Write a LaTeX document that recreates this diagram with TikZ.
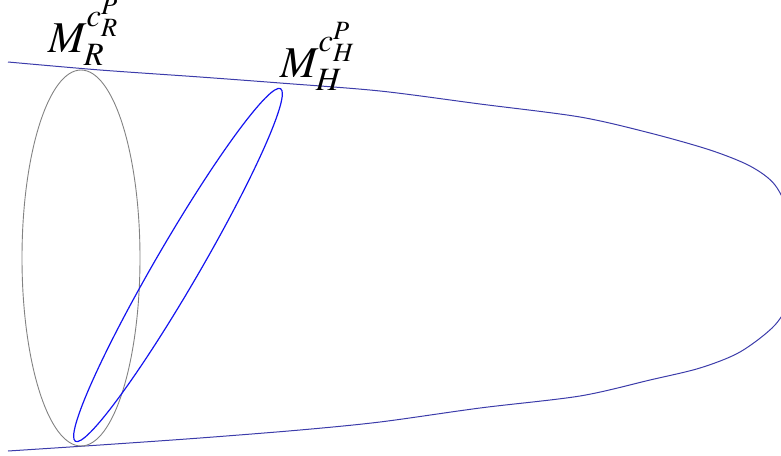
\documentclass[tikz,border=0pt]{standalone}
\usepackage{mathptmx}
\definecolor{outerblue}{RGB}{60,60,170}
\definecolor{ellblue}{RGB}{20,20,240}
\definecolor{ellgray}{RGB}{130,130,130}
\tikzset{
  outercurve/.style={draw=outerblue, line width=1pt},
  grayell/.style={draw=ellgray, line width=0.9pt},
  blueell/.style={draw=ellblue, line width=1.2pt},
  biglabel/.style={inner sep=0pt, font=\fontsize{44}{48}\selectfont}
}
\begin{document}
\begin{tikzpicture}[x=1pt,y=-1pt]
\useasboundingbox (0,0) rectangle (781,455);
\begin{scope}
\clip (0,0) rectangle (781,455);
\draw[outercurve] plot[smooth, tension=0.5] coordinates {
 (8,62) (100,70) (200,77) (280,83) (380,91) (480,104) (580,117) (650,133)
 (710,150) (750,166) (775,185) (792,220) (798,257) (792,295) (775,325)
 (740,352) (700,368) (650,380) (580,396) (480,408) (380,422) (300,430)
 (200,438) (100,445) (8,451)};
\end{scope}
\draw[grayell] (81,258) ellipse [x radius=59, y radius=188];
\draw[blueell, rotate around={59.8:(178,265)}] (178,265) ellipse [x radius=204, y radius=22];
\node[biglabel, anchor=base west] (mr) at (48,52) {$M_R^{c_R^P}$};
\node[biglabel, anchor=base west] (mh) at (280,77) {$M_H^{c_H^P}$};
\end{tikzpicture}
\end{document}
